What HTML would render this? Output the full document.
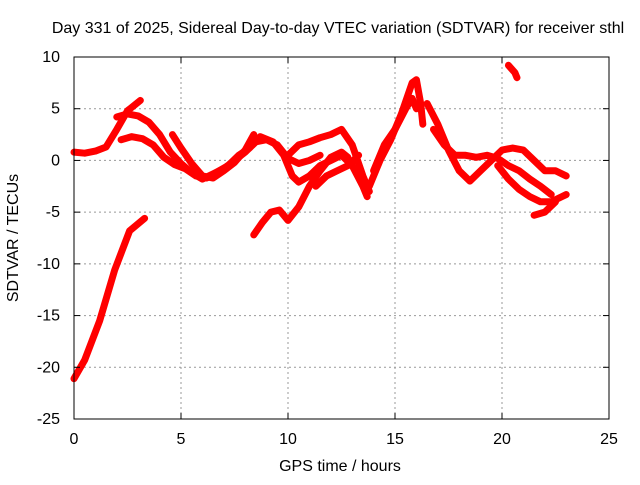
<!DOCTYPE html>
<html><head><meta charset="utf-8"><style>
body{margin:0;background:#fff}
svg text{font-family:"Liberation Sans",sans-serif;font-size:16px;fill:#000}
</style></head><body>
<svg id="chart" width="640" height="480" viewBox="0 0 640 480" xmlns="http://www.w3.org/2000/svg">
<rect width="640" height="480" fill="#fff"/>
<text x="338" y="33" text-anchor="middle">Day 331 of 2025, Sidereal Day-to-day VTEC variation (SDTVAR) for receiver sthl</text>
<g id="grid"></g>
<g id="series"></g>
<rect x="74" y="57" width="535" height="362" fill="none" stroke="#000" stroke-width="1"/>
<g id="ticks"></g>
<text x="340" y="471" text-anchor="middle">GPS time / hours</text>
<text transform="translate(18,238) rotate(-90)" text-anchor="middle">SDTVAR / TECUs</text>
</svg>
<script>
const xTicks=[0,5,10,15,20,25];
const yTicks=[10,5,0,-5,-10,-15,-20,-25];
const s1=[[0,-21.1],[0.5,-19.3],[1.2,-15.5],[1.9,-10.6],[2.6,-6.8],[3.3,-5.6]];
const s2=[[0,0.8],[0.5,0.7],[1,0.9],[1.5,1.3],[2,3],[2.5,4.8],[3.1,5.8]];
const s3=[[2,4.2],[2.5,4.5],[3,4.3],[3.5,3.7],[4,2.5],[4.5,0.8],[5,-0.3],[5.5,-1.2],[6,-1.8],[6.5,-1.3],[7,-0.8],[7.5,0],[8,0.8],[8.5,1.8],[9,2],[9.5,1.5],[10,0.2],[10.5,-0.3],[11,0],[11.5,0.5]];
const s4=[[2.2,2],[2.7,2.3],[3.2,2.1],[3.7,1.5],[4.2,0.3],[4.7,-0.4],[5.2,-0.8],[5.7,-1.5],[6.2,-1.7],[6.7,-1.1],[7.2,-0.5],[7.7,0.5],[8.2,1.2],[8.7,2.3],[9.3,1.8],[9.8,0.5],[10.2,-1.5],[10.5,-2.1],[11,-1.5],[11.5,-0.5],[12,0],[12.5,0.5],[13,-0.5],[13.5,-2.5],[13.7,-3.5]];
const s5=[[4.6,2.5],[5,1.2],[5.5,-0.3],[6,-1.5],[6.5,-1.7],[7,-1],[7.5,-0.2],[8,1],[8.4,2.5]];
const s6=[[8.4,-7.2],[8.8,-6],[9.2,-5],[9.6,-4.8],[10,-5.8],[10.5,-4.5],[11,-2.5],[11.5,-1],[12,0.3],[12.5,0.8],[12.8,0.3]];
const s7=[[10,0.5],[10.5,1.5],[11,1.8],[11.5,2.2],[12,2.5],[12.5,3],[13,1.5],[13.5,-1.5],[13.8,-3]];
const s8=[[11.3,-2.5],[11.8,-1.5],[12.3,-1],[12.8,-0.5],[13.3,0.5]];
const s9=[[13.8,-2.5],[14.3,0],[14.8,2],[15.3,4.5],[15.8,7.5],[16,7.8],[16.2,5.5],[16.3,3.5]];
const s10=[[14,-1],[14.5,1.5],[15,3],[15.5,5],[15.8,6],[16,5]];
const s11=[[16.5,5.5],[17,3.5],[17.5,1],[18,-1],[18.5,-2],[19,-1],[19.5,0],[20,1],[20.5,1.2],[21,1],[21.5,0],[22,-1],[22.5,-1],[23,-1.5]];
const s12=[[16.8,3],[17.3,1.5],[17.8,0.5],[18.3,0.5],[18.8,0.3],[19.3,0.5],[19.8,0.2],[20.3,-0.5],[20.8,-1],[21.3,-1.8],[21.8,-2.5],[22.3,-3.3]];
const s13=[[19.8,-0.5],[20.3,-1.8],[20.8,-2.8],[21.3,-3.5],[21.8,-4],[22.3,-4],[22.8,-3.5],[23,-3.3]];
const s14=[[21.5,-5.3],[22,-5],[22.5,-4]];
const s15=[[20.3,9.2],[20.6,8.5],[20.7,8]];
const allSeries=[s1,s2,s3,s4,s5,s6,s7,s8,s9,s10,s11,s12,s13,s14,s15];
const NS="http://www.w3.org/2000/svg";
const X0=74,X1=609,Y0=419,Y1=57;
function xs(v){return X0+(v-0)/(25-0)*(X1-X0);}
function ys(v){return Y0-(v+25)/(35)*(Y0-Y1);}
const grid=document.getElementById('grid'),ticks=document.getElementById('ticks'),ser=document.getElementById('series');
function mk(t,a,p){const e=document.createElementNS(NS,t);for(const k in a)e.setAttribute(k,a[k]);p.appendChild(e);return e;}
xTicks.forEach(v=>{const x=xs(v);
 if(v>0&&v<25){const g=mk('line',{x1:x,x2:x,y1:Y1,y2:Y0,stroke:'#999','stroke-dasharray':'2,3'},grid);
 }
 mk('line',{x1:x,x2:x,y1:Y0,y2:Y0-6,stroke:'#000'},ticks);mk('line',{x1:x,x2:x,y1:Y1,y2:Y1+6,stroke:'#000'},ticks);
 const t=mk('text',{x:x,y:Y0+25,'text-anchor':'middle'},ticks);t.textContent=v;
 });
yTicks.forEach(v=>{const y=ys(v);
 if(v<10&&v>-25){const g=mk('line',{x1:X0,x2:X1,y1:y,y2:y,stroke:'#999','stroke-dasharray':'2,3'},grid);
 }
 mk('line',{x1:X0,x2:X0+6,y1:y,y2:y,stroke:'#000'},ticks);mk('line',{x1:X1,x2:X1-6,y1:y,y2:y,stroke:'#000'},ticks);
 const t=mk('text',{x:X0-14,y:y+5,'text-anchor':'end'},ticks);t.textContent=v;
 });
allSeries.forEach((s,i)=>{const p=mk('polyline',{points:s.map(d=>xs(d[0])+','+ys(d[1])).join(' '),fill:'none',stroke:'#ff0000','stroke-width':7,'stroke-linejoin':'round','stroke-linecap':'round'},ser);
 
 });
</script>
</body></html>
